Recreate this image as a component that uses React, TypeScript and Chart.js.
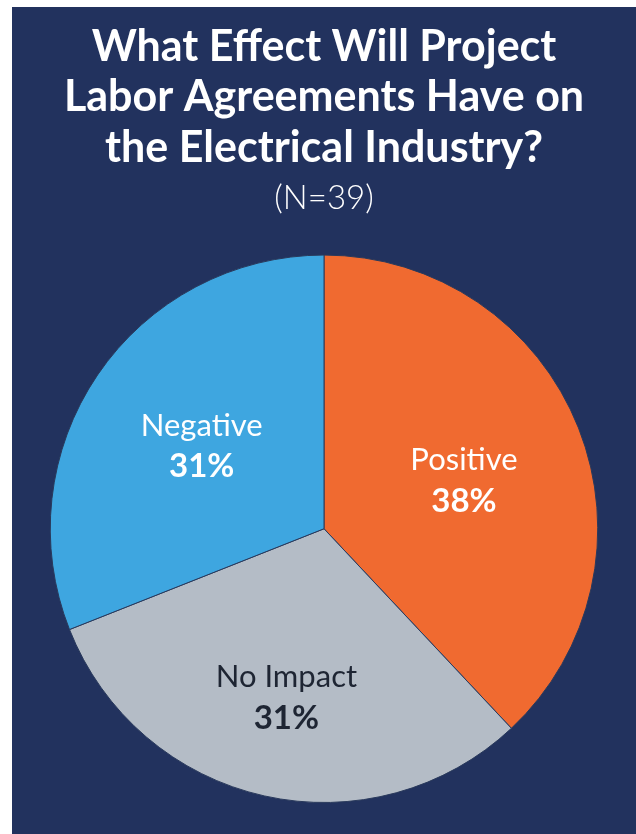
import React, { useEffect, useRef } from "react";
import { Chart, registerables } from "chart.js";

Chart.register(...registerables);

const categories = ["Positive", "No Impact", "Negative"];
const values = [38, 31, 31];
const valueLabels = ["38%", "31%", "31%"];
const titleLines = ["What Effect Will Project", "Labor Agreements Have on", "the Electrical Industry?"];
const subtitleText = "(N=39)";

const sliceColors = ["#f06a30", "#b4bcc6", "#3ea6e0"];
const labelColors = ["#ffffff", "#1e2533", "#ffffff"];
const labelRadius = [0.55, 0.63, 0.54];
const labelNudgeY = [7, 0, 0];
const NAVY = "#22325e";
const FONT = "Lato, 'Noto Sans', sans-serif";

const sliceLabelPlugin = {
  id: "sliceLabels",
  afterDatasetsDraw(chart: any) {
    const ctx = chart.ctx;
    const meta = chart.getDatasetMeta(0);
    meta.data.forEach((arc: any, i: number) => {
      const { x, y, startAngle, endAngle, outerRadius } = arc.getProps(
        ["x", "y", "startAngle", "endAngle", "outerRadius"],
        true
      );
      const mid = (startAngle + endAngle) / 2;
      const r = outerRadius * labelRadius[i];
      const cx = x + Math.cos(mid) * r;
      const cy = y + Math.sin(mid) * r + labelNudgeY[i];
      ctx.save();
      ctx.textAlign = "center";
      ctx.textBaseline = "middle";
      ctx.fillStyle = labelColors[i];
      ctx.font = `400 31px ${FONT}`;
      ctx.fillText(categories[i], cx, cy - 20);
      ctx.font = `700 33px ${FONT}`;
      ctx.fillText(valueLabels[i], cx, cy + 21);
      ctx.restore();
    });
  },
};

export default function App() {
  const ref = useRef<HTMLCanvasElement | null>(null);
  useEffect(() => {
    if (!ref.current) return;
    const chart = new Chart(ref.current, {
      type: "pie",
      data: {
        labels: categories,
        datasets: [
          {
            data: values,
            backgroundColor: sliceColors,
            borderColor: "#2a3a5c",
            borderWidth: 1,
          },
        ],
      },
      options: {
        responsive: false,
        animation: false,
        layout: { padding: { left: 37, right: 37, top: 0, bottom: 31 } },
        plugins: {
          legend: { display: false },
          tooltip: { enabled: false },
          title: {
            display: true,
            text: titleLines,
            color: "#ffffff",
            font: { family: FONT, size: 43, weight: "bold", lineHeight: 1.17 },
            padding: { top: 15, bottom: 0 },
          },
          subtitle: {
            display: true,
            text: subtitleText,
            color: "#ffffff",
            font: { family: FONT, size: 33, weight: "300", lineHeight: 1.2 },
            padding: { top: 6, bottom: 36 },
          },
        },
      },
      plugins: [sliceLabelPlugin],
    });
    return () => chart.destroy();
  }, []);
  return (
    <div
      style={{
        position: "fixed",
        left: 12,
        top: 7,
        width: 624,
        height: 827,
        background: NAVY,
      }}
    >
      <canvas ref={ref} width={624} height={827} style={{ display: "block" }} />
    </div>
  );
}
